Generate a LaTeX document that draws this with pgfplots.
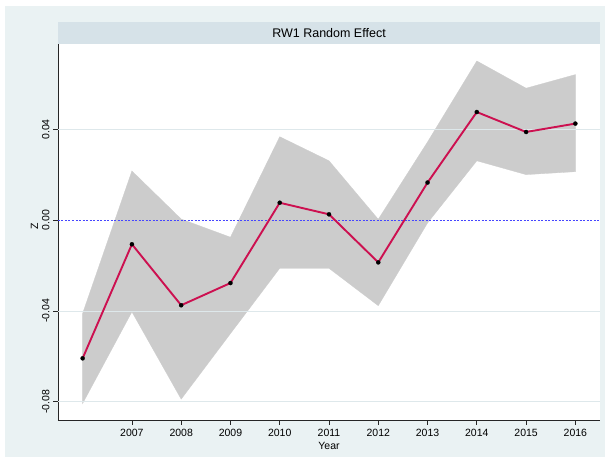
\documentclass[border=0pt]{standalone}
\usepackage{pgfplots}
\pgfplotsset{compat=1.18}
\usepackage{fontspec}
\setmainfont{Liberation Sans}
\definecolor{outerbg}{RGB}{234,242,243}
\definecolor{titlebg}{RGB}{214,226,232}
\definecolor{gridc}{RGB}{222,232,235}
\definecolor{bandc}{RGB}{204,204,204}
\definecolor{linec}{RGB}{204,16,80}
\definecolor{zeroc}{RGB}{70,70,255}
\begin{document}
\begin{tikzpicture}[x=1pt,y=1pt]
\fill[white] (-58,-42) rectangle (552,420);
\fill[outerbg] (-53,-37) rectangle (547,414);
\fill[titlebg] (0,376) rectangle (542,398);
\node[font=\fontsize{12.5}{14}\selectfont] at (271,387) {RW1 Random Effect};
\begin{axis}[at={(0,0)}, anchor=south west, scale only axis,
  width=542pt, height=376pt,
  xmin=2005.5, xmax=2016.5, ymin=-0.0881, ymax=0.0777,
  axis x line*=bottom, axis y line*=left,
  axis line style={line width=0.8pt, black!85, -},
  axis background/.style={fill=white},
  scaled y ticks=false, scaled x ticks=false,
  xtick={2007,2008,2009,2010,2011,2012,2013,2014,2015,2016},
  xticklabels={2007,2008,2009,2010,2011,2012,2013,2014,2015,2016},
  ytick={-0.08,-0.04,0,0.04},
  yticklabels={-0.08,-0.04,0.00,0.04},
  tick align=outside, major tick length=5pt,
  tick style={black!85, line width=0.8pt},
  ticklabel style={font=\fontsize{10.5}{12}\selectfont},
  xticklabel style={anchor=base, yshift=-12pt},
  yticklabel style={rotate=90, anchor=south},
  xlabel={Year}, ylabel={Z},
  label style={font=\fontsize{10.5}{12}\selectfont},
  xlabel style={at={(axis description cs:0.5,-0.069)}, anchor=center},
  ylabel style={at={(axis description cs:-0.0435,0.515)}, anchor=center},
]
% band: upper limits left to right, then lower limits right to left
\addplot[fill=bandc, draw=bandc, line width=0.3pt] coordinates {
(2006,-0.0411) (2007,0.0217) (2008,0.0005) (2009,-0.0075) (2010,0.0368)
(2011,0.0262) (2012,0.0004) (2013,0.0345) (2014,0.0702) (2015,0.0582) (2016,0.0642)
(2016,0.0214) (2015,0.0201) (2014,0.0262) (2013,-0.0012) (2012,-0.0377)
(2011,-0.0212) (2010,-0.0212) (2009,-0.0500) (2008,-0.0789) (2007,-0.0404) (2006,-0.0808)} -- cycle;
% light grid lines drawn over the band
\draw[gridc, line width=0.6pt] (axis cs:2005.5,0.04) -- (axis cs:2016.5,0.04);
\draw[gridc, line width=0.6pt] (axis cs:2005.5,-0.04) -- (axis cs:2016.5,-0.04);
\draw[gridc, line width=0.6pt] (axis cs:2005.5,-0.08) -- (axis cs:2016.5,-0.08);
\addplot[zeroc, line width=0.6pt, dash pattern=on 2pt off 1.5pt] coordinates {(2005.5,0) (2016.5,0)};
\addplot[linec, line width=1.9pt, mark=*, mark size=2.1pt,
  mark options={solid, draw=black, fill=black, line width=0.2pt}] coordinates {
(2006,-0.0609) (2007,-0.0106) (2008,-0.0375) (2009,-0.0277) (2010,0.0077)
(2011,0.0026) (2012,-0.0186) (2013,0.0166) (2014,0.0477) (2015,0.0389) (2016,0.0426)};
\end{axis}
\end{tikzpicture}
\end{document}
